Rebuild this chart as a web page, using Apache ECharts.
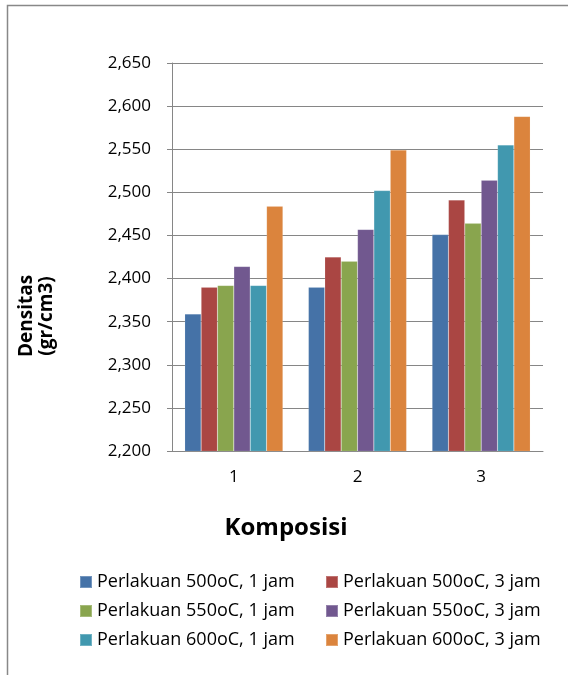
<!DOCTYPE html>
<html>
<head>
<meta charset="utf-8">
<script src="https://cdn.jsdelivr.net/npm/echarts@6/dist/echarts.min.js"></script>
<style>
  html, body { margin: 0; padding: 0; background: #fff; }
  #chart { width: 568px; height: 675px; }
</style>
</head>
<body>
<div id="chart"></div>
<script>
// Density per composition for each heat treatment
const categories = ['1', '2', '3'];
const seriesNames = [
  'Perlakuan 500oC, 1 jam',
  'Perlakuan 500oC, 3 jam',
  'Perlakuan 550oC, 1 jam',
  'Perlakuan 550oC, 3 jam',
  'Perlakuan 600oC, 1 jam',
  'Perlakuan 600oC, 3 jam'
];
const t500_1 = [2.359, 2.390, 2.451];
const t500_3 = [2.390, 2.425, 2.491];
const t550_1 = [2.392, 2.420, 2.464];
const t550_3 = [2.414, 2.457, 2.514];
const t600_1 = [2.392, 2.502, 2.555];
const t600_3 = [2.484, 2.549, 2.588];
const yMin = 2.2, yMax = 2.65, yStep = 0.05;

const values = [t500_1, t500_3, t550_1, t550_3, t600_1, t600_3];
const colors = ['#4572A7', '#AA4643', '#89A54E', '#71588F', '#4198AF', '#DB843D'];
const font = '"Open Sans", "Noto Sans", sans-serif';
const gridGray = '#868686';

const chart = echarts.init(document.getElementById('chart'), null, { renderer: 'canvas' });

const legendText = { fontFamily: font, fontSize: 18, color: '#000', lineHeight: 18 };

chart.setOption({
  animation: false,
  backgroundColor: '#fff',
  textStyle: { fontFamily: font },
  grid: { left: 172, right: 25, top: 63, bottom: 224, containLabel: false },
  xAxis: {
    type: 'category',
    data: categories,
    axisLine: { show: true, lineStyle: { color: gridGray, width: 1 } },
    axisTick: { show: false },
    axisLabel: { fontFamily: font, fontSize: 17, color: '#000', margin: 18 }
  },
  yAxis: {
    type: 'value',
    min: yMin,
    max: yMax,
    interval: yStep,
    axisLine: { show: true, lineStyle: { color: gridGray, width: 1 } },
    axisTick: { show: true, inside: false, length: 5, lineStyle: { color: gridGray } },
    splitLine: { show: true, lineStyle: { color: gridGray, width: 1 } },
    axisLabel: {
      fontFamily: font, fontSize: 17, color: '#000', margin: 21,
      formatter: v => v.toFixed(3).replace('.', ',')
    }
  },
  legend: [
    {
      orient: 'vertical', left: 74, top: 568, itemWidth: 12, itemHeight: 12, itemGap: 11,
      icon: 'rect', textStyle: legendText,
      data: [seriesNames[0], seriesNames[2], seriesNames[4]]
    },
    {
      orient: 'vertical', left: 320, top: 568, itemWidth: 12, itemHeight: 12, itemGap: 11,
      icon: 'rect', textStyle: legendText,
      data: [seriesNames[1], seriesNames[3], seriesNames[5]]
    }
  ],
  graphic: [
    {
      type: 'rect', silent: true,
      shape: { x: 7.5, y: 5.5, width: 700, height: 800 },
      style: { fill: 'none', stroke: '#888', lineWidth: 1.5 }
    },
    {
      type: 'text', silent: true, x: 37, y: 316, rotation: Math.PI / 2,
      style: {
        text: 'Densitas\n(gr/cm3)', fontFamily: font, fontSize: 19, fontWeight: 'bold',
        fill: '#000', align: 'center', verticalAlign: 'middle', lineHeight: 20
      }
    },
    {
      type: 'text', silent: true, x: 286, y: 528,
      style: {
        text: 'Komposisi', fontFamily: font, fontSize: 24, fontWeight: 'bold',
        fill: '#000', align: 'center', verticalAlign: 'middle'
      }
    }
  ],
  series: seriesNames.map((name, i) => ({
    name,
    type: 'bar',
    data: values[i],
    barGap: '0%',
    barCategoryGap: '20.6%',
    itemStyle: { color: colors[i], borderColor: 'rgba(255,255,255,0.25)', borderWidth: 0.5 }
  }))
});
</script>
</body>
</html>
